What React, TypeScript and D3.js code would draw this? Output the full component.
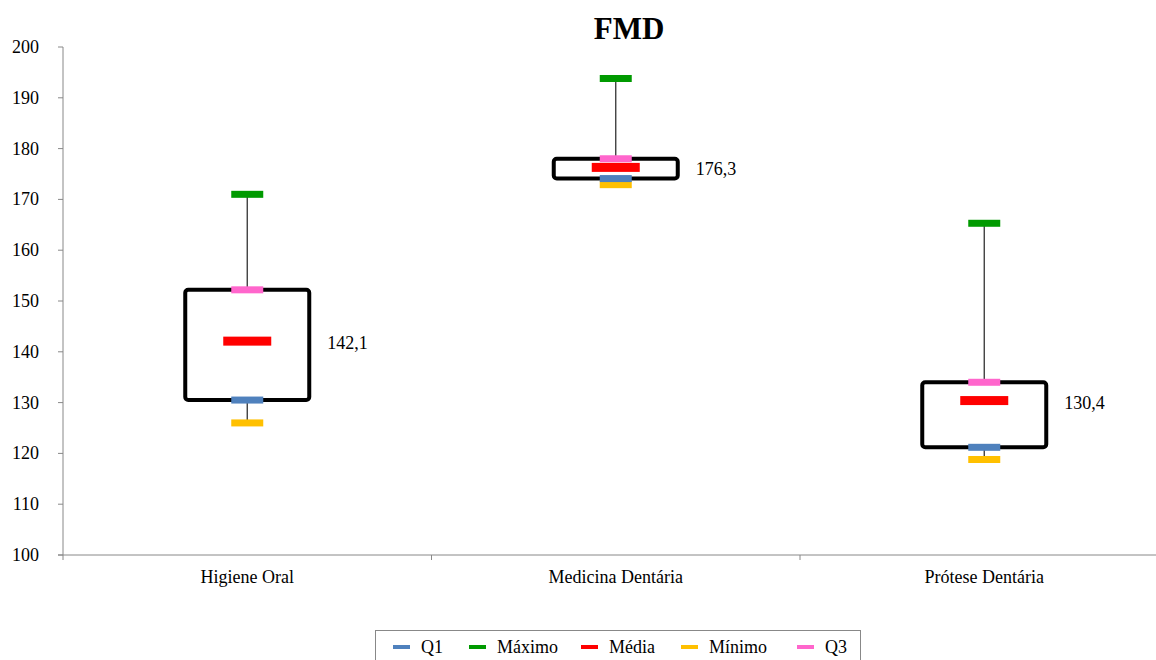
import * as d3 from "d3";
import React from "react";

const categories = ["Higiene Oral", "Medicina Dentária", "Prótese Dentária"];
const q1 = [130.5, 174.1, 121.2];
const q3 = [152.2, 178.0, 134.0];
const maximo = [171.0, 193.8, 165.3];
const minimo = [126.0, 172.9, 118.8];
const media = [142.1, 176.3, 130.4];
const yTicks = [100, 110, 120, 130, 140, 150, 160, 170, 180, 190, 200];

const legendItems = [
  { name: "Q1", color: "#4F81BD" },
  { name: "Máximo", color: "#009A00" },
  { name: "Média", color: "#FF0000" },
  { name: "Mínimo", color: "#FFC000" },
  { name: "Q3", color: "#FF66CC" },
];

const font = "Liberation Serif, Times New Roman, DejaVu Serif, serif";
const txt = { fontFamily: font };

export default function App() {
  const width = 1156;
  const height = 660;
  const left = 63;
  const top = 47;
  const bottom = 555;

  const x = d3.scaleBand().domain(categories).range([left, 1168.5]);
  const y = d3.scaleLinear().domain([100, 200]).range([bottom, top]);

  const color = (name) => legendItems.find((d) => d.name === name).color;
  const boxHalf = 62;
  const markHalf = 16;
  const meanHalf = 24;

  const legendX = [393, 469, 581, 681, 797];

  return (
    <svg
      width={width}
      height={height}
      style={{ position: "absolute", left: 0, top: 0, background: "#fff", fontFamily: font }}
    >
      <text x={629} y={39} textAnchor="middle" fontSize={31} fontWeight="bold" style={txt}>
        FMD
      </text>

      {/* y axis */}
      <line x1={left} x2={left} y1={top} y2={bottom} stroke="#888" />
      {yTicks.map((t) => (
        <g key={t}>
          <line x1={left - 5} x2={left} y1={y(t)} y2={y(t)} stroke="#888" />
          <text x={39} y={y(t) + 6} textAnchor="end" fontSize={18} style={txt}>
            {t}
          </text>
        </g>
      ))}

      {/* x axis */}
      <line x1={left - 5} x2={width} y1={bottom} y2={bottom} stroke="#888" />
      {categories.map((c) => (
        <g key={c}>
          <line x1={x(c)} x2={x(c)} y1={bottom} y2={bottom + 5} stroke="#888" />
          <text x={x(c) + x.bandwidth() / 2} y={583} textAnchor="middle" fontSize={18} style={txt}>
            {c}
          </text>
        </g>
      ))}

      {categories.map((c, i) => {
        const cx = x(c) + x.bandwidth() / 2;
        return (
          <g key={c}>
            <line x1={cx} x2={cx} y1={y(maximo[i])} y2={y(q3[i])} stroke="#333" strokeWidth={1.3} />
            <line x1={cx} x2={cx} y1={y(q1[i])} y2={y(minimo[i])} stroke="#333" strokeWidth={1.3} />
            <rect
              x={cx - boxHalf}
              y={y(q3[i])}
              width={boxHalf * 2}
              height={y(q1[i]) - y(q3[i])}
              fill="none"
              stroke="#000"
              strokeWidth={4}
              rx={3}
            />
            <rect x={cx - markHalf} y={y(minimo[i]) - 3.5} width={markHalf * 2} height={7} fill={color("Mínimo")} />
            <rect x={cx - markHalf} y={y(q1[i]) - 3.5} width={markHalf * 2} height={7} fill={color("Q1")} />
            <rect x={cx - markHalf} y={y(q3[i]) - 3.5} width={markHalf * 2} height={7} fill={color("Q3")} />
            <rect x={cx - markHalf} y={y(maximo[i]) - 3.5} width={markHalf * 2} height={7} fill={color("Máximo")} />
            <rect x={cx - meanHalf} y={y(media[i]) - 4.5} width={meanHalf * 2} height={9} fill={color("Média")} />
            <text x={cx + boxHalf + 18} y={y(media[i]) + 8} fontSize={18} style={txt}>
              {media[i].toFixed(1).replace(".", ",")}
            </text>
          </g>
        );
      })}

      {/* legend */}
      <rect x={375.5} y={630.5} width={485} height={40} fill="#fff" stroke="#888" />
      {legendItems.map((d, i) => (
        <g key={d.name}>
          <rect x={legendX[i]} y={645} width={17} height={4} fill={d.color} />
          <text x={legendX[i] + 28} y={653} fontSize={18} style={txt}>
            {d.name}
          </text>
        </g>
      ))}
    </svg>
  );
}
